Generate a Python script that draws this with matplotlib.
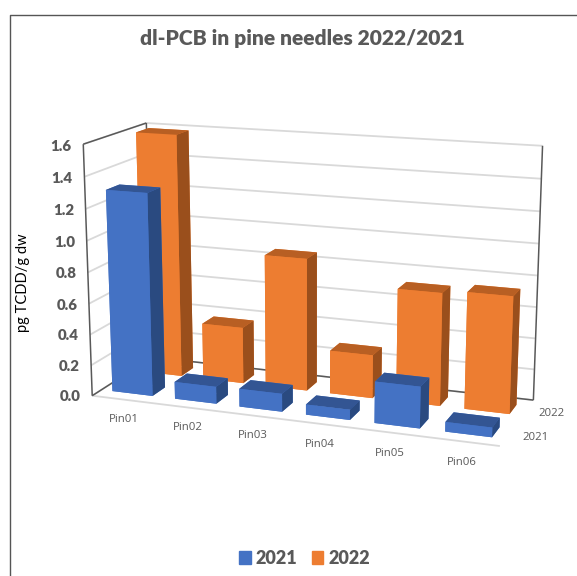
# -*- coding: utf-8 -*-

import numpy as np
import matplotlib
matplotlib.use('Agg')
import matplotlib.pyplot as plt
from matplotlib.lines import Line2D
from matplotlib.patches import Patch
from mpl_toolkits.mplot3d import proj3d
from mpl_toolkits.mplot3d.art3d import Line3DCollection

sites = ['Pin01', 'Pin02', 'Pin03', 'Pin04', 'Pin05', 'Pin06']
years = ['2021', '2022']
values_2021 = [1.30, 0.11, 0.115, 0.065, 0.26, 0.06]
values_2022 = [1.59, 0.37, 0.86, 0.28, 0.72, 0.74]
z_ticks = [0.0, 0.2, 0.4, 0.6, 0.8, 1.0, 1.2, 1.4, 1.6]

W, H = 577, 576
nx, ny, zmax = len(sites), len(years), z_ticks[-1]

# camera calibration: box corners (x, y, z) -> pixel position on the figure
world = np.array([[0, 0, 0], [0, 0, zmax], [0, ny, 0], [0, ny, zmax],
                  [nx, ny, 0], [nx, ny, zmax], [nx, 0, 0]], dtype=float)
pixels = np.array([[92, 395], [83, 144], [152, 358], [146, 123],
                   [534, 399], [543, 146], [500, 447]], dtype=float)

rows = []
rhs = []
for (a, b, c), (u, v) in zip(world, pixels):
    rows.append([a, b, c, 1, 0, 0, 0, 0, -u * a, -u * b, -u * c])
    rows.append([0, 0, 0, 0, a, b, c, 1, -v * a, -v * b, -v * c])
    rhs += [u, v]
p = np.linalg.lstsq(np.array(rows), np.array(rhs), rcond=None)[0]
P = np.append(p, 1.0).reshape(3, 4)
# third row only orders faces: far sides first, top and right faces last
M = np.array([P[0], P[1], [-0.05, 1.0, -0.3, 0.0], P[2]])

plt.rcParams['font.family'] = ['Lato', 'DejaVu Sans']
grey = '#595959'

fig = plt.figure(figsize=(W / 100, H / 100), dpi=100)
ax = fig.add_axes([0, 0, 1, 1], projection='3d', computed_zorder=False)
ax.set_axis_off()
ax.get_proj = lambda: M
ax.viewLim.intervalx = (0, W)
ax.viewLim.intervaly = (H, 0)


def box_text(x, y, z, s, dy=0, **kw):
    # text anchored at a point of the box, dy in pixels
    u, v, _ = proj3d.proj_transform(x, y, z, M)
    ax.text2D(u, v + dy, s, transform=ax.transData, color=grey,
              ha='center', va='center', zorder=5, **kw)


# gridlines on the back and left walls
grid = []
for z in z_ticks:
    grid.append([(0, 0, z), (0, ny, z)])
    grid.append([(0, ny, z), (nx, ny, z)])
grid.append([(0, 0, 0), (nx, 0, 0)])
ax.add_collection3d(Line3DCollection(grid, colors='#d9d9d9', linewidths=1.3, zorder=1))

# dark frame of the box
frame = [[(0, 0, 0), (0, 0, zmax)], [(0, 0, zmax), (0, ny, zmax)], [(0, ny, zmax), (0, ny, 0)],
         [(0, 0, 0), (0, ny, 0)], [(0, ny, 0), (nx, ny, 0)], [(nx, ny, 0), (nx, ny, zmax)]]
ax.add_collection3d(Line3DCollection(frame, colors=grey, linewidths=1.1, zorder=1.5))

bar_w = 0.645
bar_d = 0.42
x = np.arange(nx) + (1 - bar_w) / 2
series = [(values_2022, 1, ['#ed7d31', '#b85f23', '#ed7d31', '#ed7d31', '#ed7d31', '#9a4f1c'], 2),
          (values_2021, 0, ['#4472c4', '#335593', '#4472c4', '#4472c4', '#4472c4', '#2a4a80'], 3)]
for vals, row, faces, order in series:
    ax.bar3d(x, np.full(nx, row + (1 - bar_d) / 2), np.zeros(nx), bar_w, bar_d, vals,
             color=faces * nx, shade=False, zorder=order)

# axis texts placed in box coordinates
for z in z_ticks:
    box_text(-0.35, 0, z, '%.1f' % z, dy=3.5, fontsize=10.8, fontweight='heavy')
for i, s in enumerate(sites):
    box_text(0.89 + 0.958 * i, -0.75, 0, s, fontsize=8.2, family='Open Sans')
for j, y in enumerate(years):
    box_text(nx + 0.36, j + 0.5, 0, y, fontsize=8.2, family='Open Sans')

ax.set_xticks([])
ax.set_yticks([])
ax.set_zticks([])

fig.text(302 / W, 1 - 39 / H, 'dl-PCB in pine needles 2022/2021', color=grey,
         fontsize=15.1, fontweight='heavy', ha='center', va='center')
fig.text(23 / W, 1 - 283 / H, 'pg TCDD/g dw', color='black', fontsize=10.5,
         rotation=90, ha='center', va='center')

handles = [Patch(color='#4472c4', label=years[0]), Patch(color='#ed7d31', label=years[1])]
fig.legend(handles=handles, loc='center', bbox_to_anchor=(304.5 / W, 1 - 558 / H), ncol=2,
           frameon=False, handlelength=0.62, handleheight=0.7, handletextpad=0.28,
           columnspacing=0.8, prop={'size': 13, 'weight': 'heavy'}, labelcolor=grey)

# chart border, open on the right and at the bottom
fig.add_artist(Line2D([10 / W, 10 / W, 1], [0, 1 - 14.5 / H, 1 - 14.5 / H], color='#555555', lw=1.0))

fig.savefig('out.png', dpi=100)
